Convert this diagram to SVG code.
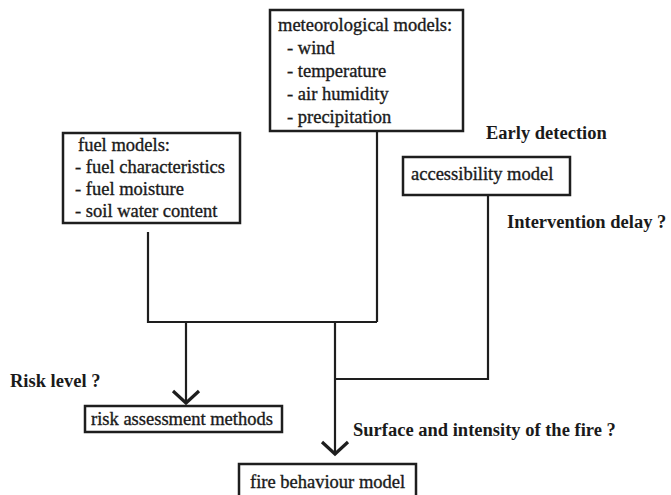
<svg xmlns="http://www.w3.org/2000/svg" width="671" height="495" viewBox="0 0 671 495">
<defs>
<style>
.box{fill:#fff;stroke:#1e1e1e;stroke-width:2.5}
.t{font-family:"Liberation Serif","Times New Roman",serif;font-size:18.5px;fill:#1a1a1a;stroke:#1a1a1a;stroke-width:0.35}
.b{font-family:"Liberation Serif","Times New Roman",serif;font-size:18.5px;font-weight:bold;fill:#1a1a1a}
.ln{fill:none;stroke:#1e1e1e;stroke-width:2.2}
.ah{fill:none;stroke:#1e1e1e;stroke-width:3.2;stroke-linejoin:miter}
</style>
</defs>
<rect width="671" height="495" fill="#fff"/>
<g id="connectors">
<path class="ln" d="M377,131 V322 M148,232 V322 H377 M186,322 V403 M335,322 V454 M488,195 V379 H335"/>
<path class="ah" d="M173,391 L186,403 L199,391"/>
<path class="ah" d="M322,442 L335,454 L348,442"/>
</g>
<g id="meteorological">
<rect class="box" x="270" y="10" width="193" height="121"/>
<text class="t" x="278" y="31">meteorological models:</text>
<text class="t" x="287" y="54">- wind</text>
<text class="t" x="287" y="77">- temperature</text>
<text class="t" x="287" y="100">- air humidity</text>
<text class="t" x="287" y="123">- precipitation</text>
</g>
<g id="fuel">
<rect class="box" x="63" y="133" width="177" height="90"/>
<text class="t" x="78" y="151">fuel models:</text>
<text class="t" x="75" y="173">- fuel characteristics</text>
<text class="t" x="75" y="195">- fuel moisture</text>
<text class="t" x="75" y="217">- soil water content</text>
</g>
<g id="accessibility">
<rect class="box" x="403" y="157" width="167" height="38"/>
<text class="t" x="411" y="180">accessibility model</text>
</g>
<g id="risk">
<rect class="box" x="85" y="406" width="197" height="26"/>
<text class="t" x="91" y="425">risk assessment methods</text>
</g>
<g id="fire">
<rect class="box" x="239" y="464" width="177" height="40"/>
<text class="t" x="250" y="488">fire behaviour model</text>
</g>
<g id="labels">
<text class="b" x="486" y="139">Early detection</text>
<text class="b" x="507" y="228">Intervention delay ?</text>
<text class="b" x="10" y="387">Risk level ?</text>
<text class="b" x="353" y="436">Surface and intensity of the fire ?</text>
</g>
</svg>
